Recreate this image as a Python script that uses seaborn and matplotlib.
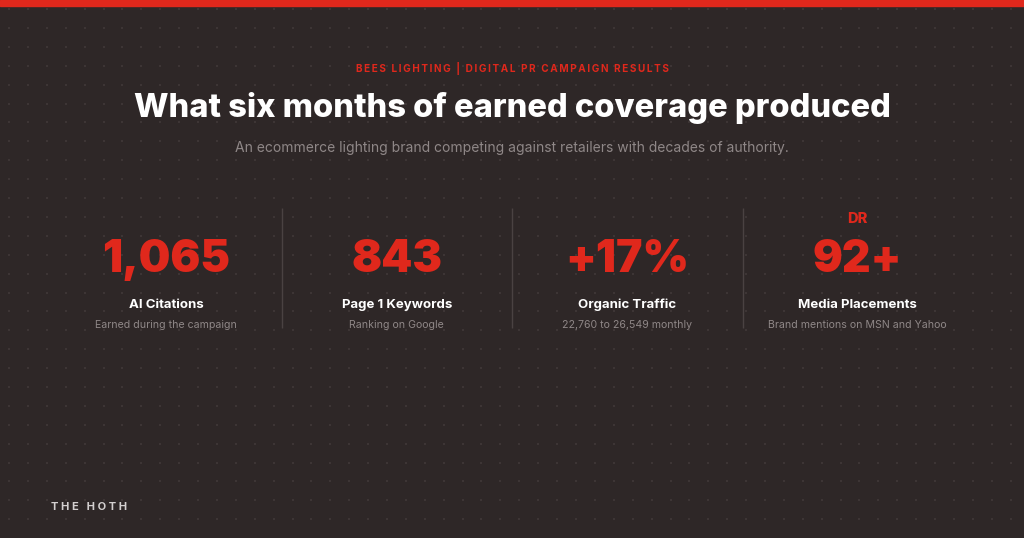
import numpy as np
import pandas as pd
import matplotlib
matplotlib.use("Agg")
import matplotlib.pyplot as plt
import seaborn as sns

# texts / values
kicker = "BEES LIGHTING | DIGITAL PR CAMPAIGN RESULTS"
title = "What six months of earned coverage produced"
subtitle = "An ecommerce lighting brand competing against retailers with decades of authority."
stat_values = ["1,065", "843", "+17%", "92+"]
stat_prefix = ["", "", "", "DR"]
stat_labels = ["AI Citations", "Page 1 Keywords", "Organic Traffic", "Media Placements"]
stat_notes = ["Earned during the campaign", "Ranking on Google",
              "22,760 to 26,549 monthly", "Brand mentions on MSN and Yahoo"]
brand = "THE HOTH"

BG = "#2e2727"
RED = "#e0281c"
DOT = "#3d3535"
WHITE = "#ffffff"
GREY = "#8f8787"

sns.set_style("dark", {"axes.facecolor": BG, "figure.facecolor": BG})
plt.rcParams["font.family"] = ["Inter", "DejaVu Sans"]


def spaced(s, sep="\u2009"):
    return sep.join(list(s))


fig = plt.figure(figsize=(10.24, 5.38), dpi=100)
ax = fig.add_axes([0, 0, 1, 1])
ax.set_xlim(0, 1024)
ax.set_ylim(538, 0)
ax.axis("off")

# dotted background texture
gx, gy = np.meshgrid(np.arange(9, 1024, 18.9), np.arange(9, 538, 18.9))
dots = pd.DataFrame({"x": gx.ravel(), "y": gy.ravel()})
sns.scatterplot(data=dots, x="x", y="y", ax=ax, s=3.5, color=DOT, marker="s",
                linewidth=0, legend=False)

# top accent bar
ax.axhspan(0, 6, color=RED, zorder=3)

ax.text(512, 72, spaced(kicker), color=RED, fontsize=7.2, fontweight="bold",
        ha="center", va="baseline")
ax.text(512, 117, title, color=WHITE, fontsize=23.5, fontweight="heavy",
        ha="center", va="baseline")
ax.text(512, 152, subtitle, color=GREY, fontsize=10, ha="center", va="baseline")

step = 230.5
x0 = 512 - 1.5 * step
for i in range(len(stat_values)):
    cx = x0 + i * step
    if stat_prefix[i]:
        ax.text(cx, 223, stat_prefix[i], color=RED, fontsize=10.5, fontweight="heavy",
                ha="center", va="baseline")
    ax.text(cx, 272, stat_values[i], color=RED, fontsize=32, fontweight="black",
            ha="center", va="baseline")
    ax.text(cx, 308, stat_labels[i], color=WHITE, fontsize=9.5, fontweight="bold",
            ha="center", va="baseline")
    ax.text(cx, 328, stat_notes[i], color=GREY, fontsize=7.6,
            ha="center", va="baseline")
    if i > 0:
        ax.vlines(cx - step / 2, 208, 328, color="#4a4242", linewidth=1)

ax.text(51, 510, spaced(brand, "\u2009\u200a"), color="#d3cfcf", fontsize=8,
        fontweight="bold", ha="left", va="baseline")

fig.savefig("out.png", dpi=100, facecolor=BG)
